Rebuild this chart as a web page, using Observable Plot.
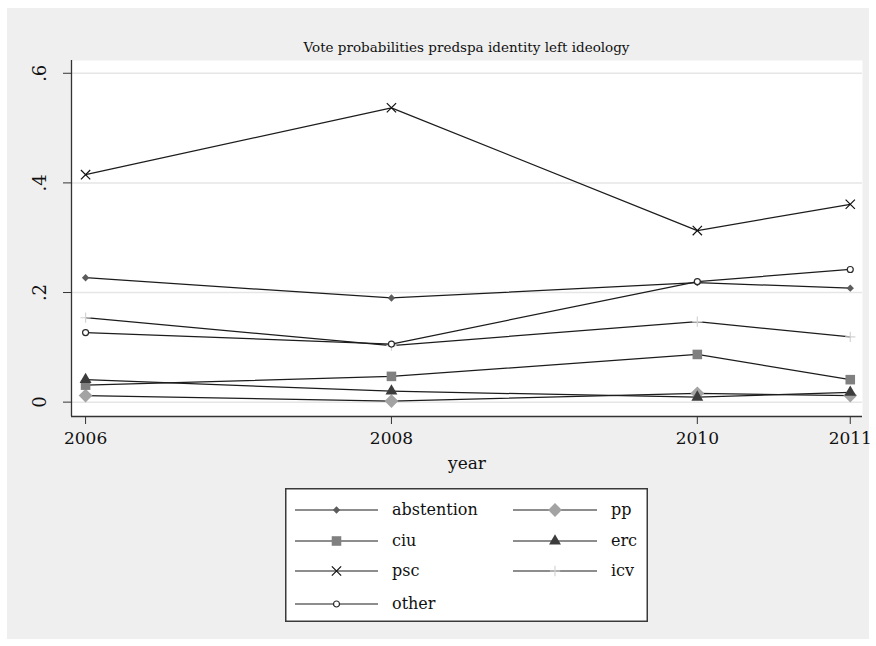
<!DOCTYPE html>
<html>
<head>
<meta charset="utf-8">
<script src="https://cdn.jsdelivr.net/npm/d3@7"></script>
<script src="https://cdn.jsdelivr.net/npm/@observablehq/plot@0.6"></script>
<style>
  html, body { margin: 0; padding: 0; background: #ffffff; }
  #wrap { position: relative; width: 876px; height: 646px; background: #ffffff; overflow: hidden;
          font-family: "DejaVu Serif", serif; color: #111; }
  #panel { position: absolute; left: 7px; top: 8px; width: 862px; height: 631px; background: #efefef; }
  #title { position: absolute; left: 71px; width: 791px; top: 38px; text-align: center; font-size: 13.5px; line-height: 18px; }
  #chart { position: absolute; left: 0; top: 0; }
  #legend { position: absolute; left: 285px; top: 488px; }
</style>
</head>
<body>
<div id="wrap">
  <div id="panel"></div>
  <div id="chart"></div>
  <div id="title">Vote probabilities predspa identity left ideology</div>
  <div id="legend"></div>
</div>
<script>
// Predicted vote probabilities by year
const years = [2006, 2008, 2010, 2011];
const abstention = [0.227, 0.190, 0.218, 0.208];
const pp = [0.012, 0.002, 0.016, 0.012];
const ciu = [0.031, 0.047, 0.087, 0.041];
const erc = [0.041, 0.020, 0.009, 0.018];
const psc = [0.415, 0.537, 0.313, 0.361];
const icv = [0.154, 0.103, 0.147, 0.119];
const other = [0.127, 0.106, 0.220, 0.242];

const seriesNames = ["abstention", "pp", "ciu", "erc", "psc", "icv", "other"];
const seriesValues = [abstention, pp, ciu, erc, psc, icv, other];
const yTicks = [0, 0.2, 0.4, 0.6];
const xTicks = years;

// long-format table built from the arrays above
const rows = seriesNames.flatMap((s, i) =>
  years.map((yr, j) => ({series: s, year: yr, value: seriesValues[i][j]})));

// marker look for each series
const markers = {
  abstention: {symbol: "diamond2", r: 3.3, fill: "#5c5c5c", stroke: "none"},
  pp:         {symbol: "diamond2", r: 6.2, fill: "#a3a3a3", stroke: "none"},
  ciu:        {symbol: "square",   r: 5.4, fill: "#808080", stroke: "none"},
  erc:        {symbol: "triangle", r: 4.4, fill: "#3c3c3c", stroke: "none"},
  psc:        {symbol: "times",    r: 4.3, fill: "none",    stroke: "#111111"},
  icv:        {symbol: "plus",     r: 3.4, fill: "none",    stroke: "#d4d4d4"},
  other:      {symbol: "circle",   r: 3.0, fill: "#ffffff", stroke: "#2a2a2a"}
};

const serif = "'DejaVu Serif', serif";
const xDomain = [2005.908, 2011.08];
const yDomain = [-0.0262, 0.6233];
const tickFmt = d => d === 0 ? "0" : String(d).replace(/^0/, "");

const chart = Plot.plot({
  width: 876,
  height: 480,
  marginLeft: 71,
  marginRight: 14,
  marginTop: 60,
  marginBottom: 64,
  style: {background: "transparent", fontFamily: serif, color: "#111"},
  x: {domain: xDomain},
  y: {domain: yDomain},
  marks: [
    Plot.frame({fill: "#ffffff", stroke: "none"}),
    Plot.gridY(yTicks, {stroke: "#e6e6e6", strokeOpacity: 1, strokeWidth: 1.5}),
    Plot.axisY(yTicks, {tickFormat: tickFmt, tickRotate: -90, fontSize: 18, tickSize: 8, tickPadding: 18, label: null, stroke: "#333"}),
    Plot.axisX(xTicks, {tickFormat: d => String(d), fontSize: 17, tickSize: 8, tickPadding: 7,
      label: "year", labelAnchor: "center", labelArrow: "none", labelOffset: 52, stroke: "#333"}),
    Plot.ruleX([xDomain[0]], {stroke: "#333", strokeWidth: 1.3}),
    Plot.ruleY([yDomain[0]], {stroke: "#333", strokeWidth: 1.3}),
    Plot.line(rows, {x: "year", y: "value", z: "series", stroke: "#1c1c1c", strokeWidth: 1.25}),
    ...seriesNames.map(s => Plot.dot(rows.filter(d => d.series === s), {
      x: "year", y: "value",
      symbol: markers[s].symbol, r: markers[s].r,
      fill: markers[s].fill, stroke: markers[s].stroke, strokeWidth: 1.2
    }))
  ]
});
document.getElementById("chart").appendChild(chart);

// legend: two columns of line-and-marker keys
const lw = 363, lh = 134;
const leg = d3.select("#legend").append("svg").attr("width", lw).attr("height", lh)
  .style("font-family", serif);
leg.append("rect").attr("x", 0.75).attr("y", 0.75).attr("width", lw - 1.5).attr("height", lh - 1.5)
  .attr("fill", "#ffffff").attr("stroke", "#3a3a3a").attr("stroke-width", 1.5);
const rowY = [22, 53, 83, 116];
const cols = [{k0: 10, k1: 93, lab: 107}, {k0: 228, k1: 312, lab: 326}];
const symMap = {diamond2: d3.symbolDiamond2, square: d3.symbolSquare, triangle: d3.symbolTriangle,
  times: d3.symbolTimes, plus: d3.symbolPlus, circle: d3.symbolCircle};
seriesNames.forEach((s, i) => {
  const c = cols[i % 2], y = rowY[Math.floor(i / 2)];
  const g = leg.append("g");
  g.append("line").attr("x1", c.k0).attr("x2", c.k1).attr("y1", y).attr("y2", y)
    .attr("stroke", "#1c1c1c").attr("stroke-width", 1.2);
  const m = markers[s];
  g.append("path")
    .attr("d", d3.symbol(symMap[m.symbol], Math.PI * m.r * m.r)())
    .attr("transform", `translate(${(c.k0 + c.k1) / 2},${y})`)
    .attr("fill", m.fill).attr("stroke", m.stroke).attr("stroke-width", 1.2);
  g.append("text").attr("x", c.lab).attr("y", y).attr("dy", "0.32em")
    .attr("font-size", 16).attr("fill", "#111").text(s);
});
</script>
</body>
</html>
